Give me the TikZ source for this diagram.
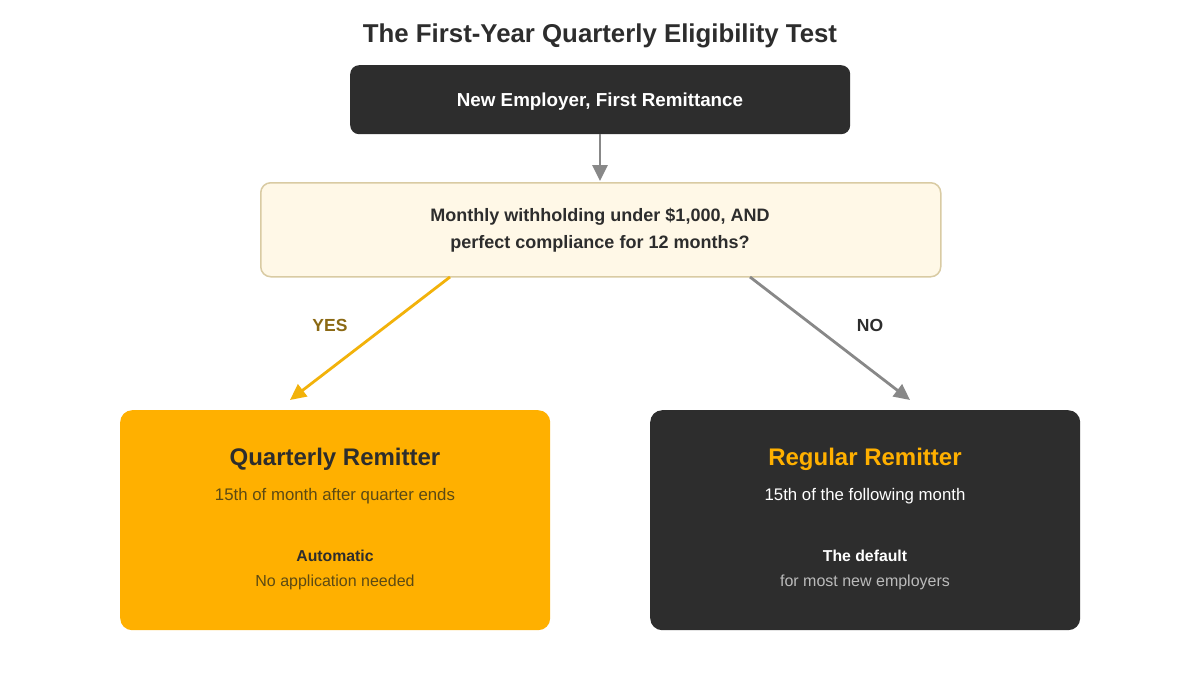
\documentclass[tikz,border=0pt]{standalone}
\usepackage{fontspec}
\setmainfont{Liberation Sans}
\usetikzlibrary{arrows.meta}
\definecolor{darkbox}{HTML}{2D2D2D}
\definecolor{amber}{HTML}{FFB000}
\definecolor{yarrow}{HTML}{F2B20A}
\definecolor{garrow}{HTML}{888888}
\definecolor{creamfill}{HTML}{FFF8E7}
\definecolor{creamline}{HTML}{D9CBA3}
\definecolor{yeslbl}{HTML}{8B6914}
\definecolor{brownsub}{HTML}{5C4A14}
\definecolor{lightsub}{HTML}{BBBBBB}
\tikzset{
  box/.style={rounded corners=9pt, inner sep=0pt, anchor=north west},
  conn/.style={line width=2.8pt, -{Triangle[length=16pt,width=15pt]}},
  lbl/.style={font=\bfseries\fontsize{17.5}{20}\selectfont},
}
\begin{document}
\begin{tikzpicture}[x=1pt,y=-1pt]
\useasboundingbox (0,0) rectangle (1200,675);
\fill[white] (0,0) rectangle (1200,675);
% title
\node[font=\bfseries\fontsize{25.8}{30}\selectfont, text=darkbox] (title) at (600,36) {The First-Year Quarterly Eligibility Test};
% top box
\node[box, fill=darkbox, minimum width=500pt, minimum height=69pt] (start) at (350,65) {};
\node[font=\bfseries\fontsize{18.8}{22}\selectfont, text=white] (startt) at (600,102) {New Employer, First Remittance};
% decision
\node[box, fill=creamfill, draw=creamline, line width=1.5pt, rounded corners=10pt, minimum width=680pt, minimum height=94pt] (dec) at (260,182) {};
\node[align=center, font=\bfseries\fontsize{18}{27}\selectfont, text=darkbox] (dect) at (600,230) {Monthly withholding under \$1,000, AND\\perfect compliance for 12 months?};
% outcome boxes
\node[box, fill=amber, rounded corners=12pt, minimum width=430pt, minimum height=220pt] (qr) at (120,410) {};
\node[box, fill=darkbox, rounded corners=12pt, minimum width=430pt, minimum height=220pt] (rr) at (650,410) {};
% texts in left box
\node[font=\bfseries\fontsize{24}{28}\selectfont, text=darkbox] (qrt) at (335,459) {Quarterly Remitter};
\node[font=\fontsize{16.8}{20}\selectfont, text=brownsub] (qrs) at (335,496) {15th of month after quarter ends};
\node[font=\bfseries\fontsize{15.8}{19}\selectfont, text=darkbox] (qra) at (335,556) {Automatic};
\node[font=\fontsize{16}{19}\selectfont, text=brownsub] (qrn) at (335,582) {No application needed};
% texts in right box
\node[font=\bfseries\fontsize{24}{28}\selectfont, text=amber] (rrt) at (865,459) {Regular Remitter};
\node[font=\fontsize{16.8}{20}\selectfont, text=white] (rrs) at (865,496) {15th of the following month};
\node[font=\bfseries\fontsize{15.8}{19}\selectfont, text=white] (rra) at (865,556) {The default};
\node[font=\fontsize{16}{19}\selectfont, text=lightsub] (rrn) at (865,582) {for most new employers};
% connectors
\coordinate (topa) at (600,134);
\coordinate (topb) at (600,181);
\coordinate (yesa) at (450,277);
\coordinate (noa) at (750,277);
\coordinate (yesend) at (290,400);
\coordinate (noend) at (910,400);
\draw[conn, garrow] (topa) -- (topb);
\draw[conn, yarrow] (yesa) -- (yesend);
\draw[conn, garrow] (noa) -- (noend);
\node[lbl, text=yeslbl] (yes) at (330,325) {YES};
\node[lbl, text=darkbox] (no) at (870,325) {NO};
\end{tikzpicture}
\end{document}
